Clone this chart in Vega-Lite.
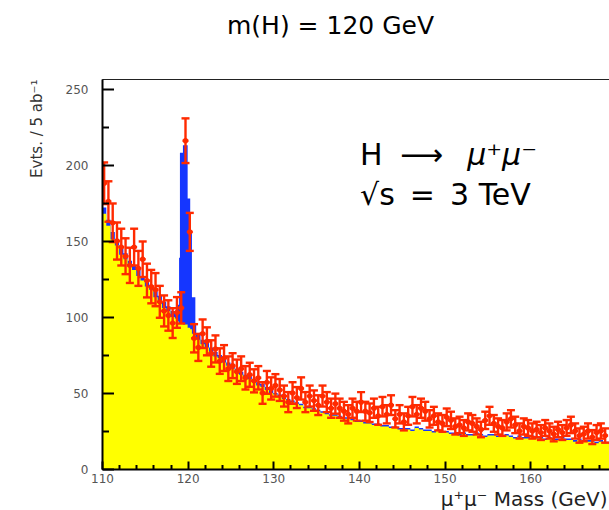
{
  "$schema": "https://vega.github.io/schema/vega-lite/v6.json",
  "autosize": {"type": "none"},
  "padding": {"left": 102, "top": 79, "right": 0, "bottom": 41},
  "width": 507,
  "height": 390,
  "background": "white",
  "config": {"view": {"stroke": "#222", "strokeWidth": 1}},
  "title": {"text": "m(H) = 120 GeV", "font": "DejaVu Sans", "fontSize": 25, "fontWeight": "normal", "color": "#000", "anchor": "middle", "frame": "group", "dx": -25, "offset": 20, "baseline": "alphabetic"},
  "resolve": {"axis": {"x": "independent", "y": "independent"}},
  "datasets": {
    "hist": [
      {"m":110.0,"bg":168,"tot":172},{"m":110.5,"bg":160,"tot":164},{"m":111.0,"bg":151,"tot":156},{"m":111.5,"bg":147,"tot":151},
      {"m":112.0,"bg":141,"tot":145},{"m":112.5,"bg":138,"tot":142},{"m":113.0,"bg":133,"tot":137},{"m":113.5,"bg":131,"tot":134},
      {"m":114.0,"bg":127,"tot":131},{"m":114.5,"bg":124,"tot":127},{"m":115.0,"bg":120,"tot":124},{"m":115.5,"bg":118,"tot":121},
      {"m":116.0,"bg":113,"tot":117},{"m":116.5,"bg":111,"tot":114},{"m":117.0,"bg":106,"tot":110},{"m":117.5,"bg":104,"tot":107},
      {"m":118.0,"bg":100,"tot":104},{"m":118.5,"bg":99,"tot":103},{"m":118.75,"bg":97,"tot":108},{"m":119.0,"bg":96,"tot":139},
      {"m":119.1,"bg":96,"tot":208},{"m":119.45,"bg":95,"tot":213},{"m":120.0,"bg":93,"tot":178},{"m":120.3,"bg":92,"tot":157},
      {"m":120.5,"bg":89,"tot":113},{"m":120.9,"bg":87,"tot":96},{"m":121.0,"bg":85,"tot":89},{"m":121.5,"bg":82,"tot":85},
      {"m":122.0,"bg":80,"tot":83},{"m":122.5,"bg":77,"tot":80},{"m":123.0,"bg":74,"tot":77},{"m":123.5,"bg":73,"tot":75},
      {"m":124.0,"bg":70,"tot":73},{"m":124.5,"bg":68,"tot":70},{"m":125.0,"bg":66,"tot":68},{"m":125.5,"bg":64,"tot":66},
      {"m":126.0,"bg":62,"tot":64},{"m":126.5,"bg":60,"tot":62},{"m":127.0,"bg":59,"tot":61},{"m":127.5,"bg":57,"tot":59},
      {"m":128.0,"bg":55,"tot":57},{"m":128.5,"bg":54,"tot":56},{"m":129.0,"bg":52,"tot":54},{"m":129.5,"bg":50,"tot":52},
      {"m":130.0,"bg":49,"tot":50},{"m":130.5,"bg":48,"tot":49},{"m":131.0,"bg":46,"tot":47},{"m":131.5,"bg":45,"tot":46},
      {"m":132.0,"bg":44,"tot":45},{"m":132.5,"bg":43,"tot":44},{"m":133.0,"bg":42,"tot":43},{"m":133.5,"bg":40,"tot":41},
      {"m":134.0,"bg":40,"tot":41},{"m":134.5,"bg":39,"tot":40},{"m":135.0,"bg":38,"tot":39},{"m":135.5,"bg":37,"tot":38},
      {"m":136.0,"bg":36,"tot":37},{"m":136.5,"bg":35,"tot":36},{"m":137.0,"bg":35,"tot":36},{"m":137.5,"bg":34,"tot":35},
      {"m":138.0,"bg":33,"tot":34},{"m":138.5,"bg":33,"tot":34},{"m":139.0,"bg":32,"tot":33},{"m":139.5,"bg":31,"tot":32},
      {"m":140.0,"bg":31,"tot":32},{"m":140.5,"bg":30,"tot":31},{"m":141.0,"bg":30,"tot":31},{"m":141.5,"bg":29,"tot":30},
      {"m":142.0,"bg":29,"tot":30},{"m":142.5,"bg":28,"tot":29},{"m":143.0,"bg":28,"tot":29},{"m":143.5,"bg":27,"tot":28},
      {"m":144.0,"bg":27,"tot":28},{"m":144.5,"bg":26,"tot":27},{"m":145.0,"bg":26,"tot":27},{"m":145.5,"bg":26,"tot":27},
      {"m":146.0,"bg":25,"tot":26},{"m":146.5,"bg":27,"tot":28},{"m":147.0,"bg":26,"tot":27},{"m":147.5,"bg":25,"tot":26},
      {"m":148.0,"bg":25,"tot":26},{"m":148.5,"bg":24,"tot":25},{"m":149.0,"bg":25,"tot":26},{"m":149.5,"bg":24,"tot":25},
      {"m":150.0,"bg":24,"tot":25},{"m":150.5,"bg":23,"tot":24},{"m":151.0,"bg":23,"tot":24},{"m":151.5,"bg":22,"tot":23},
      {"m":152.0,"bg":23,"tot":24},{"m":152.5,"bg":22,"tot":23},{"m":153.0,"bg":22,"tot":23},{"m":153.5,"bg":23,"tot":24},
      {"m":154.0,"bg":22,"tot":23},{"m":154.5,"bg":21,"tot":22},{"m":155.0,"bg":22,"tot":23},{"m":155.5,"bg":22,"tot":23},
      {"m":156.0,"bg":21,"tot":22},{"m":156.5,"bg":21,"tot":22},{"m":157.0,"bg":22,"tot":23},{"m":157.5,"bg":21,"tot":22},
      {"m":158.0,"bg":20,"tot":21},{"m":158.5,"bg":21,"tot":22},{"m":159.0,"bg":20,"tot":21},{"m":159.5,"bg":20,"tot":21},
      {"m":160.0,"bg":21,"tot":22},{"m":160.5,"bg":20,"tot":21},{"m":161.0,"bg":20,"tot":21},{"m":161.5,"bg":19,"tot":20},
      {"m":162.0,"bg":20,"tot":21},{"m":162.5,"bg":19,"tot":20},{"m":163.0,"bg":19,"tot":20},{"m":163.5,"bg":20,"tot":21},
      {"m":164.0,"bg":19,"tot":20},{"m":164.5,"bg":19,"tot":20},{"m":165.0,"bg":18,"tot":19},{"m":165.5,"bg":19,"tot":20},
      {"m":166.0,"bg":18,"tot":19},{"m":166.5,"bg":18,"tot":19},{"m":167.0,"bg":18,"tot":19},{"m":167.5,"bg":17,"tot":18},
      {"m":168.0,"bg":18,"tot":19},{"m":168.5,"bg":17,"tot":18},{"m":169.0,"bg":17,"tot":18},{"m":169.5,"bg":17,"tot":18},
      {"m":170.0,"bg":17,"tot":18}
    ],
    "pts": [
      {"m":110.25,"v":188,"lo":174.3,"hi":201.7},{"m":110.75,"v":176,"lo":162.7,"hi":189.3},{"m":111.25,"v":162,"lo":149.3,"hi":174.7},{"m":111.75,"v":150,"lo":137.8,"hi":162.2},
      {"m":112.25,"v":146,"lo":133.9,"hi":158.1},{"m":112.75,"v":140,"lo":128.2,"hi":151.8},{"m":113.25,"v":134,"lo":122.4,"hi":145.6},{"m":113.75,"v":146,"lo":133.9,"hi":158.1},
      {"m":114.25,"v":132,"lo":120.5,"hi":143.5},{"m":114.75,"v":138,"lo":126.3,"hi":149.7},{"m":115.25,"v":124,"lo":112.9,"hi":135.1},{"m":115.75,"v":120,"lo":109.0,"hi":131.0},
      {"m":116.25,"v":118,"lo":107.1,"hi":128.9},{"m":116.75,"v":110,"lo":99.5,"hi":120.5},{"m":117.25,"v":104,"lo":93.8,"hi":114.2},{"m":117.75,"v":101,"lo":91.0,"hi":111.0},
      {"m":118.25,"v":96,"lo":86.2,"hi":105.8},{"m":118.75,"v":103,"lo":92.9,"hi":113.1},{"m":119.25,"v":106,"lo":95.7,"hi":116.3},{"m":119.75,"v":216,"lo":201.3,"hi":230.7},
      {"m":120.25,"v":156,"lo":143.5,"hi":168.5},{"m":120.75,"v":86,"lo":76.7,"hi":95.3},{"m":121.25,"v":80,"lo":71.1,"hi":88.9},{"m":121.75,"v":89,"lo":79.6,"hi":98.4},
      {"m":122.25,"v":84,"lo":74.8,"hi":93.2},{"m":122.75,"v":76,"lo":67.3,"hi":84.7},{"m":123.25,"v":79,"lo":70.1,"hi":87.9},{"m":123.75,"v":71,"lo":62.6,"hi":79.4},
      {"m":124.25,"v":73,"lo":64.5,"hi":81.5},{"m":124.75,"v":66,"lo":57.9,"hi":74.1},{"m":125.25,"v":68,"lo":59.8,"hi":76.2},{"m":125.75,"v":64,"lo":56.0,"hi":72.0},
      {"m":126.25,"v":66,"lo":57.9,"hi":74.1},{"m":126.75,"v":60,"lo":52.3,"hi":67.7},{"m":127.25,"v":62,"lo":54.1,"hi":69.9},{"m":127.75,"v":58,"lo":50.4,"hi":65.6},
      {"m":128.25,"v":60,"lo":52.3,"hi":67.7},{"m":128.75,"v":50,"lo":42.9,"hi":57.1},{"m":129.25,"v":57,"lo":49.5,"hi":64.5},{"m":129.75,"v":53,"lo":45.7,"hi":60.3},
      {"m":130.25,"v":55,"lo":47.6,"hi":62.4},{"m":130.75,"v":52,"lo":44.8,"hi":59.2},{"m":131.25,"v":48,"lo":41.1,"hi":54.9},{"m":131.75,"v":44,"lo":37.4,"hi":50.6},
      {"m":132.25,"v":50,"lo":42.9,"hi":57.1},{"m":132.75,"v":47,"lo":40.1,"hi":53.9},{"m":133.25,"v":53,"lo":45.7,"hi":60.3},{"m":133.75,"v":44,"lo":37.4,"hi":50.6},
      {"m":134.25,"v":48,"lo":41.1,"hi":54.9},{"m":134.75,"v":45,"lo":38.3,"hi":51.7},{"m":135.25,"v":42,"lo":35.5,"hi":48.5},{"m":135.75,"v":48,"lo":41.1,"hi":54.9},
      {"m":136.25,"v":44,"lo":37.4,"hi":50.6},{"m":136.75,"v":40,"lo":33.7,"hi":46.3},{"m":137.25,"v":43,"lo":36.4,"hi":49.6},{"m":137.75,"v":40,"lo":33.7,"hi":46.3},
      {"m":138.25,"v":38,"lo":31.8,"hi":44.2},{"m":138.75,"v":36,"lo":30.0,"hi":42.0},{"m":139.25,"v":40,"lo":33.7,"hi":46.3},{"m":139.75,"v":38,"lo":31.8,"hi":44.2},
      {"m":140.25,"v":44,"lo":37.4,"hi":50.6},{"m":140.75,"v":38,"lo":31.8,"hi":44.2},{"m":141.25,"v":37,"lo":30.9,"hi":43.1},{"m":141.75,"v":40,"lo":33.7,"hi":46.3},
      {"m":142.25,"v":35,"lo":29.1,"hi":40.9},{"m":142.75,"v":41,"lo":34.6,"hi":47.4},{"m":143.25,"v":36,"lo":30.0,"hi":42.0},{"m":143.75,"v":42,"lo":35.5,"hi":48.5},
      {"m":144.25,"v":33,"lo":27.3,"hi":38.7},{"m":144.75,"v":36,"lo":30.0,"hi":42.0},{"m":145.25,"v":31,"lo":25.4,"hi":36.6},{"m":145.75,"v":35,"lo":29.1,"hi":40.9},
      {"m":146.25,"v":41,"lo":34.6,"hi":47.4},{"m":146.75,"v":36,"lo":30.0,"hi":42.0},{"m":147.25,"v":40,"lo":33.7,"hi":46.3},{"m":147.75,"v":38,"lo":31.8,"hi":44.2},
      {"m":148.25,"v":33,"lo":27.3,"hi":38.7},{"m":148.75,"v":35,"lo":29.1,"hi":40.9},{"m":149.25,"v":31,"lo":25.4,"hi":36.6},{"m":149.75,"v":30,"lo":24.5,"hi":35.5},
      {"m":150.25,"v":34,"lo":28.2,"hi":39.8},{"m":150.75,"v":32,"lo":26.3,"hi":37.7},{"m":151.25,"v":28,"lo":22.7,"hi":33.3},{"m":151.75,"v":29,"lo":23.6,"hi":34.4},
      {"m":152.25,"v":27,"lo":21.8,"hi":32.2},{"m":152.75,"v":31,"lo":25.4,"hi":36.6},{"m":153.25,"v":30,"lo":24.5,"hi":35.5},{"m":153.75,"v":28,"lo":22.7,"hi":33.3},
      {"m":154.25,"v":26,"lo":20.9,"hi":31.1},{"m":154.75,"v":32,"lo":26.3,"hi":37.7},{"m":155.25,"v":35,"lo":29.1,"hi":40.9},{"m":155.75,"v":30,"lo":24.5,"hi":35.5},
      {"m":156.25,"v":28,"lo":22.7,"hi":33.3},{"m":156.75,"v":27,"lo":21.8,"hi":32.2},{"m":157.25,"v":31,"lo":25.4,"hi":36.6},{"m":157.75,"v":33,"lo":27.3,"hi":38.7},
      {"m":158.25,"v":29,"lo":23.6,"hi":34.4},{"m":158.75,"v":25,"lo":20.0,"hi":30.0},{"m":159.25,"v":28,"lo":22.7,"hi":33.3},{"m":159.75,"v":27,"lo":21.8,"hi":32.2},
      {"m":160.25,"v":25,"lo":20.0,"hi":30.0},{"m":160.75,"v":26,"lo":20.9,"hi":31.1},{"m":161.25,"v":24,"lo":19.1,"hi":28.9},{"m":161.75,"v":27,"lo":21.8,"hi":32.2},
      {"m":162.25,"v":25,"lo":20.0,"hi":30.0},{"m":162.75,"v":23,"lo":18.2,"hi":27.8},{"m":163.25,"v":26,"lo":20.9,"hi":31.1},{"m":163.75,"v":24,"lo":19.1,"hi":28.9},
      {"m":164.25,"v":27,"lo":21.8,"hi":32.2},{"m":164.75,"v":29,"lo":23.6,"hi":34.4},{"m":165.25,"v":25,"lo":20.0,"hi":30.0},{"m":165.75,"v":22,"lo":17.3,"hi":26.7},
      {"m":166.25,"v":23,"lo":18.2,"hi":27.8},{"m":166.75,"v":25,"lo":20.0,"hi":30.0},{"m":167.25,"v":21,"lo":16.4,"hi":25.6},{"m":167.75,"v":24,"lo":19.1,"hi":28.9},
      {"m":168.25,"v":25,"lo":20.0,"hi":30.0},{"m":168.75,"v":22,"lo":17.3,"hi":26.7}
    ],
    "notes": [
      {"m":140.14,"v":200,"t":"H"},
      {"m":144.8,"v":200,"t":"⟶"},
      {"m":140.14,"v":173.7,"t":"√s\u2002=\u20023 TeV"}
    ],
    "notesItalic": [
      {"m":152.64,"v":200,"t":"μ⁺μ⁻"}
    ]
  },
  "encoding": {
    "x": {"field": "m", "type": "quantitative", "scale": {"domain": [110, 169.2], "nice": false, "zero": false}, "axis": null}
  },
  "layer": [
    {
      "data": {"name": "hist"},
      "mark": {"type": "area", "interpolate": "step-after", "color": "#1536ff", "clip": true},
      "encoding": {
        "x": {
          "field": "m", "type": "quantitative",
          "scale": {"domain": [110, 169.2], "nice": false, "zero": false},
          "axis": {
            "orient": "bottom", "zindex": 1,
            "title": "μ⁺μ⁻ Mass (GeV)",
            "values": [110, 120, 130, 140, 150, 160],
            "tickSize": -8, "tickWidth": 2, "tickColor": "#000",
            "domainColor": "#000", "domainWidth": 2,
            "grid": false,
            "labelPadding": 12, "labelFlush": false, "labelOverlap": false,
            "labelFont": "DejaVu Sans", "labelFontSize": 12, "labelColor": "#555",
            "titleFont": "DejaVu Sans", "titleFontSize": 20, "titleFontWeight": "normal", "titleColor": "#222",
            "titleAnchor": "end", "titleAlign": "right", "titleBaseline": "alphabetic",
            "titleX": 505, "titleY": 36
          }
        },
        "y": {
          "field": "tot", "type": "quantitative",
          "scale": {"domain": [0, 256.6], "nice": false},
          "axis": {
            "orient": "left", "zindex": 1,
            "title": "Evts. / 5 ab⁻¹",
            "values": [0, 50, 100, 150, 200, 250],
            "tickSize": -11.5, "tickWidth": 2, "tickColor": "#000",
            "domainColor": "#000", "domainWidth": 2,
            "grid": false,
            "labelPadding": 25.5, "labelOverlap": false, "labelFlush": false,
            "labelFont": "DejaVu Sans", "labelFontSize": 12, "labelColor": "#555",
            "titleFont": "DejaVu Sans", "titleFontSize": 15, "titleFontWeight": "normal", "titleColor": "#333",
            "titleAngle": -90, "titleAlign": "right", "titleBaseline": "alphabetic",
            "titleX": -61, "titleY": 0
          }
        }
      }
    },
    {
      "data": {"name": "hist"},
      "mark": {"type": "area", "interpolate": "step-after", "color": "#ffff00", "clip": true},
      "encoding": {
        "x": {
          "field": "m", "type": "quantitative",
          "scale": {"domain": [110, 169.2], "nice": false, "zero": false},
          "axis": {
            "orient": "bottom", "zindex": 1,
            "values": [112,114,116,118,122,124,126,128,132,134,136,138,142,144,146,148,152,154,156,158,162,164,166,168],
            "tickSize": -4.5, "tickWidth": 2, "tickColor": "#000",
            "labels": false, "domain": false, "grid": false, "title": null
          }
        },
        "y": {
          "field": "bg", "type": "quantitative",
          "scale": {"domain": [0, 256.6], "nice": false},
          "axis": {
            "orient": "left", "zindex": 1,
            "values": [25, 75, 125, 175, 225],
            "tickSize": -6.5, "tickWidth": 2, "tickColor": "#000",
            "labels": false, "domain": false, "grid": false, "title": null
          }
        }
      }
    },
    {
      "data": {"name": "pts"},
      "mark": {"type": "rule", "color": "#ff2a00", "strokeWidth": 2.4, "clip": true},
      "encoding": {
        "y": {"field": "lo", "type": "quantitative", "scale": {"domain": [0, 256.6], "nice": false}, "axis": null},
        "y2": {"field": "hi"}
      }
    },
    {
      "data": {"name": "pts"},
      "mark": {"type": "tick", "orient": "horizontal", "color": "#ff2a00", "size": 8, "thickness": 2.4, "opacity": 1, "clip": true},
      "encoding": {
        "y": {"field": "lo", "type": "quantitative", "scale": {"domain": [0, 256.6], "nice": false}, "axis": null}
      }
    },
    {
      "data": {"name": "pts"},
      "mark": {"type": "tick", "orient": "horizontal", "color": "#ff2a00", "size": 8, "thickness": 2.4, "opacity": 1, "clip": true},
      "encoding": {
        "y": {"field": "hi", "type": "quantitative", "scale": {"domain": [0, 256.6], "nice": false}, "axis": null}
      }
    },
    {
      "data": {"name": "pts"},
      "mark": {"type": "tick", "orient": "horizontal", "color": "#ff2a00", "size": 6, "thickness": 2.4, "opacity": 1, "clip": true},
      "encoding": {
        "y": {"field": "v", "type": "quantitative", "scale": {"domain": [0, 256.6], "nice": false}, "axis": null}
      }
    },
    {
      "data": {"name": "pts"},
      "mark": {"type": "circle", "size": 28, "color": "#ff2a00", "opacity": 1, "clip": true},
      "encoding": {
        "y": {"field": "v", "type": "quantitative", "scale": {"domain": [0, 256.6], "nice": false}, "axis": null}
      }
    },
    {
      "data": {"name": "notes"},
      "mark": {"type": "text", "align": "left", "baseline": "alphabetic", "font": "DejaVu Sans", "fontSize": 30, "color": "#000"},
      "encoding": {
        "y": {"field": "v", "type": "quantitative", "scale": {"domain": [0, 256.6], "nice": false}, "axis": null},
        "text": {"field": "t"}
      }
    },
    {
      "data": {"name": "notesItalic"},
      "mark": {"type": "text", "align": "left", "baseline": "alphabetic", "font": "DejaVu Sans", "fontSize": 30, "fontStyle": "italic", "color": "#000"},
      "encoding": {
        "y": {"field": "v", "type": "quantitative", "scale": {"domain": [0, 256.6], "nice": false}, "axis": null},
        "text": {"field": "t"}
      }
    }
  ]
}
